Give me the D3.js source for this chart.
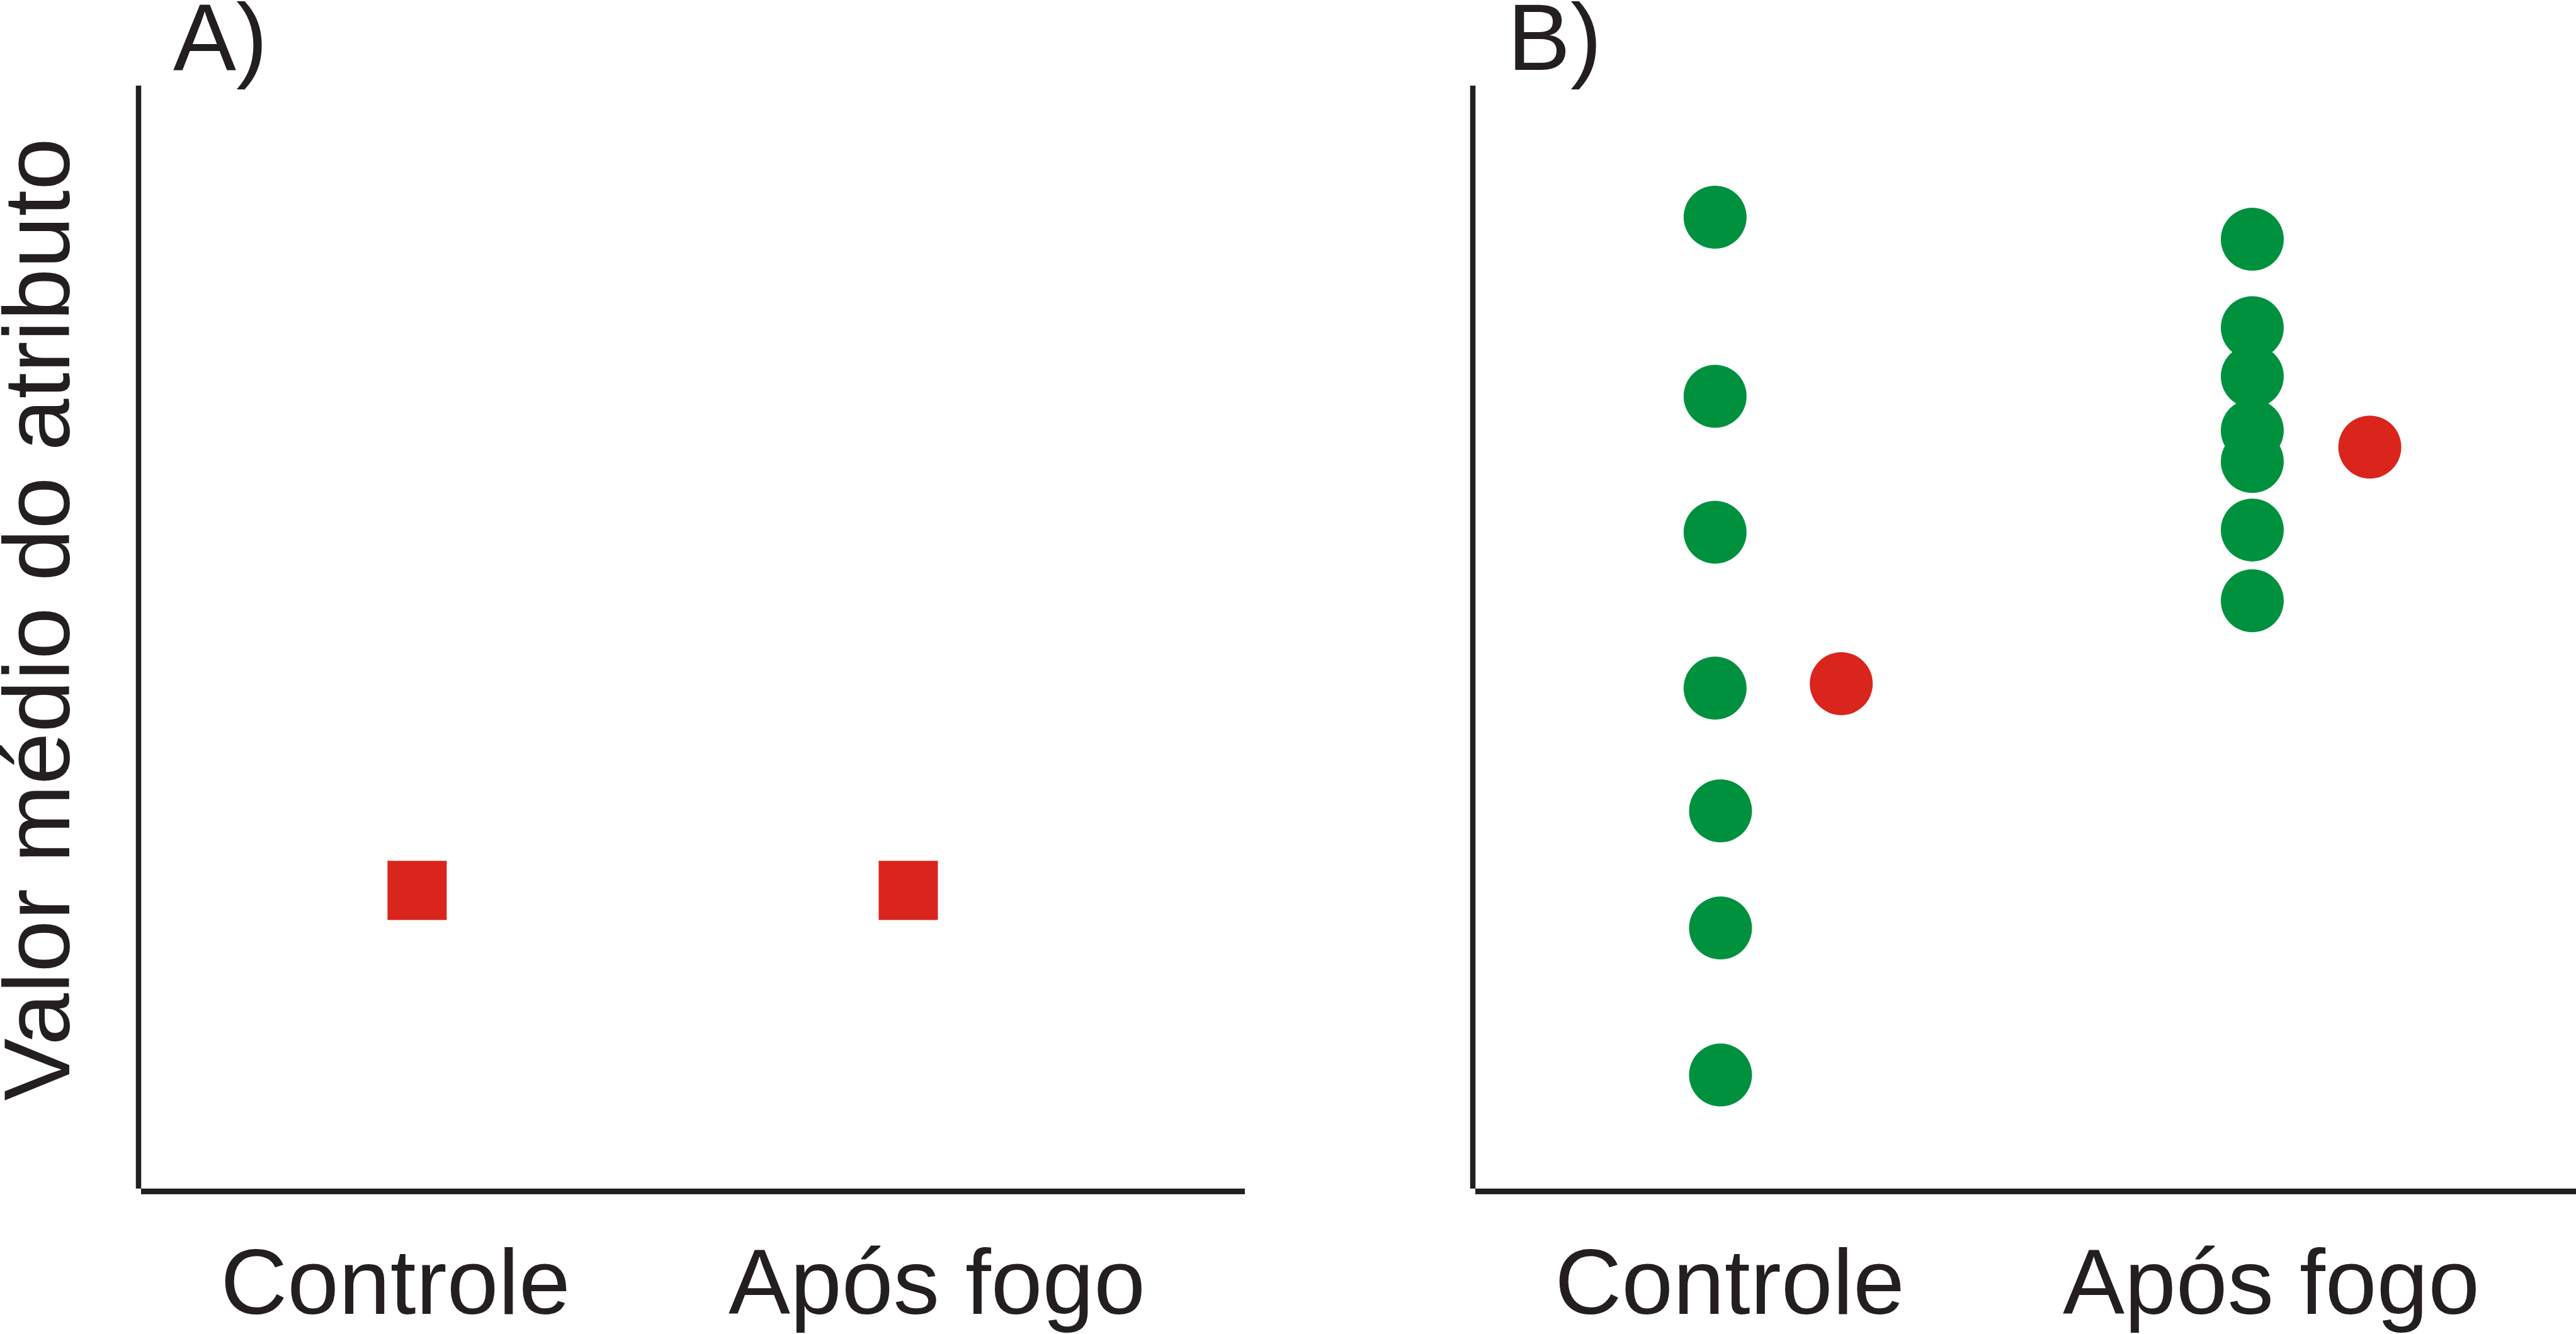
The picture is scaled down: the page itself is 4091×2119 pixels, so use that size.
<!DOCTYPE html>
<html>
<head>
<meta charset="utf-8">
<script src="https://cdn.jsdelivr.net/npm/d3@7"></script>
<style>
  html, body { margin: 0; padding: 0; background: #ffffff; }
  svg { display: block; }
  text { font-family: "Liberation Sans", Arial, sans-serif; fill: #231f20; }
</style>
</head>
<body>
<svg id="chart" width="4091" height="2119"></svg>
<script>
// ---------------- DATA ----------------
const categories = ["Controle", "Após fogo"];
const yAxisLabel = "Valor médio do atributo";
const panelLabels = ["A)", "B)"];

// Panel A: mean values (red squares), x position in category-index units
const panelA_means = [27.2, 27.2];
const panelA_xpos  = [0.04, 0.947];

// Panel B: individual values (green dots) per category
const panelB_controle_values = [88.1, 71.9, 59.6, 45.5, 34.4, 23.8, 10.5];
const panelB_controle_xpos   = [-0.027, -0.027, -0.027, -0.027, -0.017, -0.017, -0.017];
const panelB_apos_values     = [86.1, 78.1, 73.7, 68.8, 66.0, 59.8, 53.4];
const panelB_apos_xpos       = [0.965, 0.965, 0.965, 0.965, 0.965, 0.965, 0.965];
// Panel B: means (red dots)
const panelB_means = [45.9, 67.3];
const panelB_means_xpos = [0.206, 1.182];

// ---------------- LAYOUT ----------------
const svg = d3.select("#chart");
const W = 4091, H = 2119;
svg.append("rect").attr("width", W).attr("height", H).attr("fill", "#ffffff");

const axisColor = "#231f20";
const green = "#00913f";
const red = "#da251d";
const fontSize = 149;

const panels = [
  { left: 220, right: 1977 },
  { left: 2339, right: 4091 }
];
const plotTop = 136, plotBottom = 1892;

const y = d3.scaleLinear().domain([0, 100]).range([plotBottom, plotTop]);

panels.forEach((p, i) => {
  const g = svg.append("g");
  const xCat = d3.scalePoint().domain(categories).range([p.left + 408, p.left + 1268]).padding(0);
  const xPos = d3.scaleLinear().domain([0, 1]).range([xCat(categories[0]), xCat(categories[1])]);

  // axes
  g.append("line")
    .attr("x1", p.left).attr("x2", p.left)
    .attr("y1", y.range()[1]).attr("y2", y.range()[0] - 4)
    .attr("stroke", axisColor).attr("stroke-width", 8.5);
  g.append("line")
    .attr("x1", p.left + 4).attr("x2", p.right)
    .attr("y1", y.range()[0] + 0.5).attr("y2", y.range()[0] + 0.5)
    .attr("stroke", axisColor).attr("stroke-width", 9);

  // category labels
  g.selectAll("text.cat").data(categories).enter().append("text")
    .attr("class", "cat")
    .attr("x", d => xCat(d))
    .attr("y", 2087)
    .attr("text-anchor", "middle")
    .attr("font-size", 147)
    .text(d => d);

  // panel letter
  g.append("text")
    .attr("x", p.left + 55)
    .attr("y", 111)
    .attr("font-size", 150)
    .text(panelLabels[i]);

  if (i === 0) {
    const s = 94;
    g.selectAll("rect.mean").data(panelA_means).enter().append("rect")
      .attr("class", "mean")
      .attr("x", (d, k) => xPos(panelA_xpos[k]) - s / 2)
      .attr("y", d => y(d) - s / 2)
      .attr("width", s).attr("height", s)
      .attr("fill", red);
  } else {
    const r = 50;
    const pts = panelB_controle_values.map((v, k) => ({ v, x: panelB_controle_xpos[k] }))
      .concat(panelB_apos_values.map((v, k) => ({ v, x: panelB_apos_xpos[k] })));
    g.selectAll("circle.pt").data(pts).enter().append("circle")
      .attr("class", "pt")
      .attr("cx", d => xPos(d.x))
      .attr("cy", d => y(d.v))
      .attr("r", r)
      .attr("fill", green);
    g.selectAll("circle.mean").data(panelB_means).enter().append("circle")
      .attr("class", "mean")
      .attr("cx", (d, k) => xPos(panelB_means_xpos[k]))
      .attr("cy", d => y(d))
      .attr("r", r)
      .attr("fill", red);
  }
});

// y-axis title (left of panel A)
svg.append("text")
  .attr("transform", "translate(110," + 984 + ") rotate(-90)")
  .attr("text-anchor", "middle")
  .attr("font-size", fontSize)
  .text(yAxisLabel);
</script>
</body>
</html>
